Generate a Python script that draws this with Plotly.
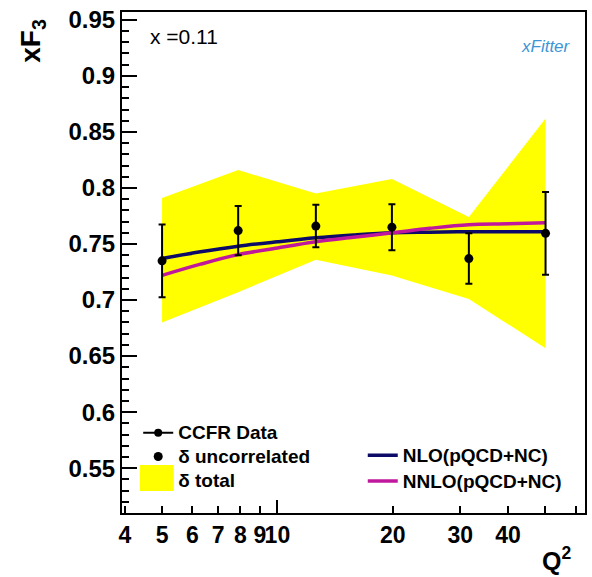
import plotly.graph_objects as go

# ---- data ----
q2 = [5.0, 7.9, 12.6, 19.9, 31.6, 50.1]
xf3 = [0.735, 0.762, 0.766, 0.765, 0.737, 0.7595]
err_unc = [0.0325, 0.022, 0.019, 0.0205, 0.0225, 0.037]
band_hi = [0.791, 0.816, 0.795, 0.808, 0.774, 0.862]
band_lo = [0.680, 0.707, 0.736, 0.722, 0.701, 0.657]

q2_theory = [5.0, 6.3, 7.9, 10.0, 12.6, 15.8, 20.0, 25.0, 31.6, 40.0, 50.1]
nlo = [0.737, 0.743, 0.748, 0.752, 0.7555, 0.758, 0.760, 0.7605, 0.761, 0.761, 0.761]
nnlo = [0.722, 0.732, 0.7405, 0.7465, 0.752, 0.756, 0.760, 0.764, 0.7672, 0.768, 0.769]

x_tickvals = [4, 5, 6, 7, 8, 9, 10, 20, 30, 40, 50, 60]
x_ticktext = ["4", "5", "6", "7", "8", "9", "10", "20", "30", "40", "", ""]
y_tickvals = [0.55, 0.6, 0.65, 0.7, 0.75, 0.8, 0.85, 0.9, 0.95]
y_ticktext = ["0.55", "0.6", "0.65", "0.7", "0.75", "0.8", "0.85", "0.9", "0.95"]

FONT = "Liberation Sans"


def big(s):
    return "<span style='font-size:19px'>" + s + "</span>"


fig = go.Figure()

# total uncertainty band
fig.add_trace(go.Scatter(
    x=q2 + q2[::-1], y=band_hi + band_lo[::-1],
    fill="toself", fillcolor="#ffff00", mode="lines",
    line=dict(width=0, color="#ffff00"),
    name=big("\u03b4 total"), legend="legend", legendrank=3, hoverinfo="skip"))

# theory curves
fig.add_trace(go.Scatter(
    x=q2_theory, y=nlo, mode="lines", line=dict(color="#0c0c68", width=3.5, shape="spline"),
    name=big("NLO(pQCD+NC)"), legend="legend2", legendrank=1))
fig.add_trace(go.Scatter(
    x=q2_theory, y=nnlo, mode="lines", line=dict(color="#c0189c", width=3.5, shape="spline"),
    name=big("NNLO(pQCD+NC)"), legend="legend2", legendrank=2))

# data with uncorrelated errors (on the overlay axis, drawn on top)
fig.add_trace(go.Scatter(
    x=q2, y=xf3, mode="markers", xaxis="x2",
    marker=dict(color="black", size=9, symbol="circle"),
    error_y=dict(type="data", array=err_unc, color="black", thickness=2, width=3.5),
    name=big("\u03b4 uncorrelated"), legend="legend", legendrank=2))

# legend-only entry for the data line style
fig.add_trace(go.Scatter(
    x=[None], y=[None], mode="lines+markers",
    marker=dict(color="black", size=8), line=dict(color="black", width=2),
    name=big("CCFR Data"), legend="legend", legendrank=1))

fig.update_layout(
    width=592, height=577,
    margin=dict(l=122, r=5, t=12, b=64),
    paper_bgcolor="white", plot_bgcolor="white",
    font=dict(family=FONT, color="black"),
    xaxis=dict(
        type="log", range=[0.5944, 1.8028],
        tickmode="array", tickvals=x_tickvals, ticktext=x_ticktext, tickangle=0,
        ticks="inside", ticklen=7, tickwidth=1.5, tickcolor="black",
        showgrid=False, zeroline=False,
        showline=True, linecolor="black", linewidth=2, mirror=True,
        tickfont=dict(family=FONT, size=23, weight="bold"),
        ticklabelstandoff=0,
    ),
    xaxis2=dict(
        type="log", range=[0.5944, 1.8028], overlaying="x", anchor="y", side="bottom",
        tickmode="array", tickvals=[10], ticks="inside", ticklen=13, tickwidth=1.5,
        tickcolor="black", showticklabels=False, showgrid=False, zeroline=False,
        showline=False,
    ),
    yaxis=dict(
        range=[0.51, 0.957],
        tickmode="array", tickvals=y_tickvals, ticktext=y_ticktext,
        ticks="inside", ticklen=15, tickwidth=1.5, tickcolor="black",
        minor=dict(tickmode="linear", tick0=0.5, dtick=0.01, ticks="inside",
                   ticklen=7, tickwidth=1.5, tickcolor="black"),
        showgrid=False, zeroline=False,
        showline=True, linecolor="black", linewidth=2, mirror=True,
        tickfont=dict(family=FONT, size=24, weight="bold"),
    ),
    legend=dict(
        x=0.035, y=0.194, xanchor="left", yanchor="top",
        bgcolor="rgba(0,0,0,0)", borderwidth=0,
        font=dict(family=FONT, size=16, weight="bold"),
        tracegroupgap=0, itemwidth=30,
    ),
    legend2=dict(
        x=0.52, y=0.151, xanchor="left", yanchor="top",
        bgcolor="rgba(0,0,0,0)", borderwidth=0,
        font=dict(family=FONT, size=17.5, weight="bold"),
        tracegroupgap=0, itemwidth=30,
    ),
    shapes=[
        # enlarged legend key for the yellow band (legend styling)
        dict(type="rect", xref="paper", yref="paper", layer="below",
             x0=0.0387, x1=0.1118, y0=0.0439, y1=0.0958,
             fillcolor="#ffff00", line=dict(width=0)),
    ],
    annotations=[
        dict(text="x =0.11", xref="paper", yref="paper", x=0.056, y=0.952,
             xanchor="left", yanchor="middle", showarrow=False,
             font=dict(family=FONT, size=21)),
        dict(text="<i>xFitter</i>", xref="paper", yref="paper", x=0.916, y=0.932,
             xanchor="center", yanchor="middle", showarrow=False,
             font=dict(family=FONT, size=17, color="#3d95d6")),
        dict(text="xF<sub>3</sub>", xref="paper", yref="paper", x=-0.195, y=0.99,
             xanchor="center", yanchor="top", textangle=-90, showarrow=False,
             font=dict(family=FONT, size=28, weight="bold")),
        dict(text="Q<sup>2</sup>", xref="paper", yref="paper", x=0.975, y=-0.127,
             xanchor="right", yanchor="bottom", showarrow=False,
             font=dict(family=FONT, size=25, weight="bold")),
    ],
)

fig.write_html("out.html")
